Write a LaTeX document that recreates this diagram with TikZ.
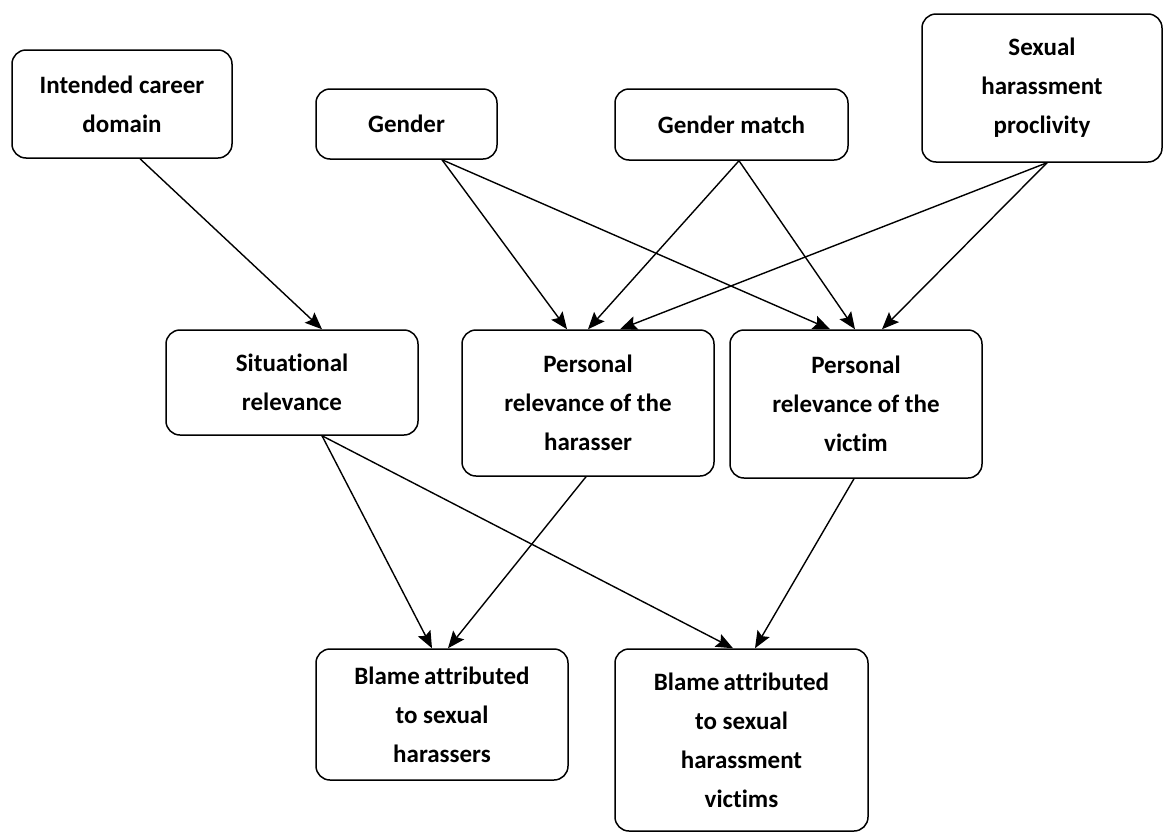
\documentclass[tikz,border=0pt]{standalone}
\usepackage{fontspec}
\setmainfont{Carlito}[RawFeature=-liga]
\usetikzlibrary{arrows.meta}
\begin{document}
\begin{tikzpicture}[x=1pt,y=-1pt,
  box/.style={draw=black, line width=1.5pt, rounded corners=14pt, align=center,
    inner sep=0pt, font=\fontsize{25}{39}\selectfont\bfseries},
  link/.style={draw=black, line width=1.4pt, -{Stealth[length=17pt,width=14pt,inset=3pt]}}]
\useasboundingbox (0,0) rectangle (1165,833);
\node[box, minimum width=220pt, minimum height=108pt] (intent) at (122,104) {Intended career\\domain};
\node[box, minimum width=181pt, minimum height=70pt] (gender) at (406.5,124) {Gender};
\node[box, minimum width=233pt, minimum height=71pt] (gmatch) at (731.5,124.5) {Gender match};
\node[box, minimum width=240pt, minimum height=148pt] (proc) at (1042,88) {Sexual\\harassment\\proclivity};
\node[box, minimum width=252pt, minimum height=105pt] (situ) at (292,382.5) {Situational\\relevance};
\node[box, minimum width=252pt, minimum height=146pt] (harr) at (588,403) {Personal\\relevance of the\\harasser};
\node[box, minimum width=252pt, minimum height=148pt] (vict) at (856,404) {Personal\\relevance of the\\victim};
\node[box, minimum width=252pt, minimum height=131pt] (bh) at (442,714.5) {Blame\kern-0.05em\ attributed\\to sexual\\harassers};
\node[box, minimum width=253pt, minimum height=182pt] (bv) at (741.5,740) {Blame\kern-0.05em\ attributed\\to sexual\\harassment\\victims};
\draw[link] ([xshift=18pt]intent.south) -- ([xshift=30pt]situ.north);
\draw[link] ([xshift=35.5pt]gender.south) -- ([xshift=-21pt]harr.north);
\draw[link] ([xshift=35.5pt]gender.south) -- ([xshift=-26pt]vict.north);
\draw[link] ([xshift=7.5pt]gmatch.south) -- ([xshift=0pt]harr.north);
\draw[link] ([xshift=7.5pt]gmatch.south) -- ([xshift=-1pt]vict.north);
\draw[link] ([xshift=5pt]proc.south) -- ([xshift=32pt]harr.north);
\draw[link] ([xshift=5pt]proc.south) -- ([xshift=26pt]vict.north);
\draw[link] ([xshift=30pt]situ.south) -- ([xshift=-10pt]bh.north);
\draw[link] ([xshift=30pt]situ.south) -- ([xshift=-8.5pt]bv.north);
\draw[link] ([xshift=-2pt]harr.south) -- ([xshift=6pt]bh.north);
\draw[link] ([xshift=-2pt]vict.south) -- ([xshift=13.5pt]bv.north);
\end{tikzpicture}
\end{document}
